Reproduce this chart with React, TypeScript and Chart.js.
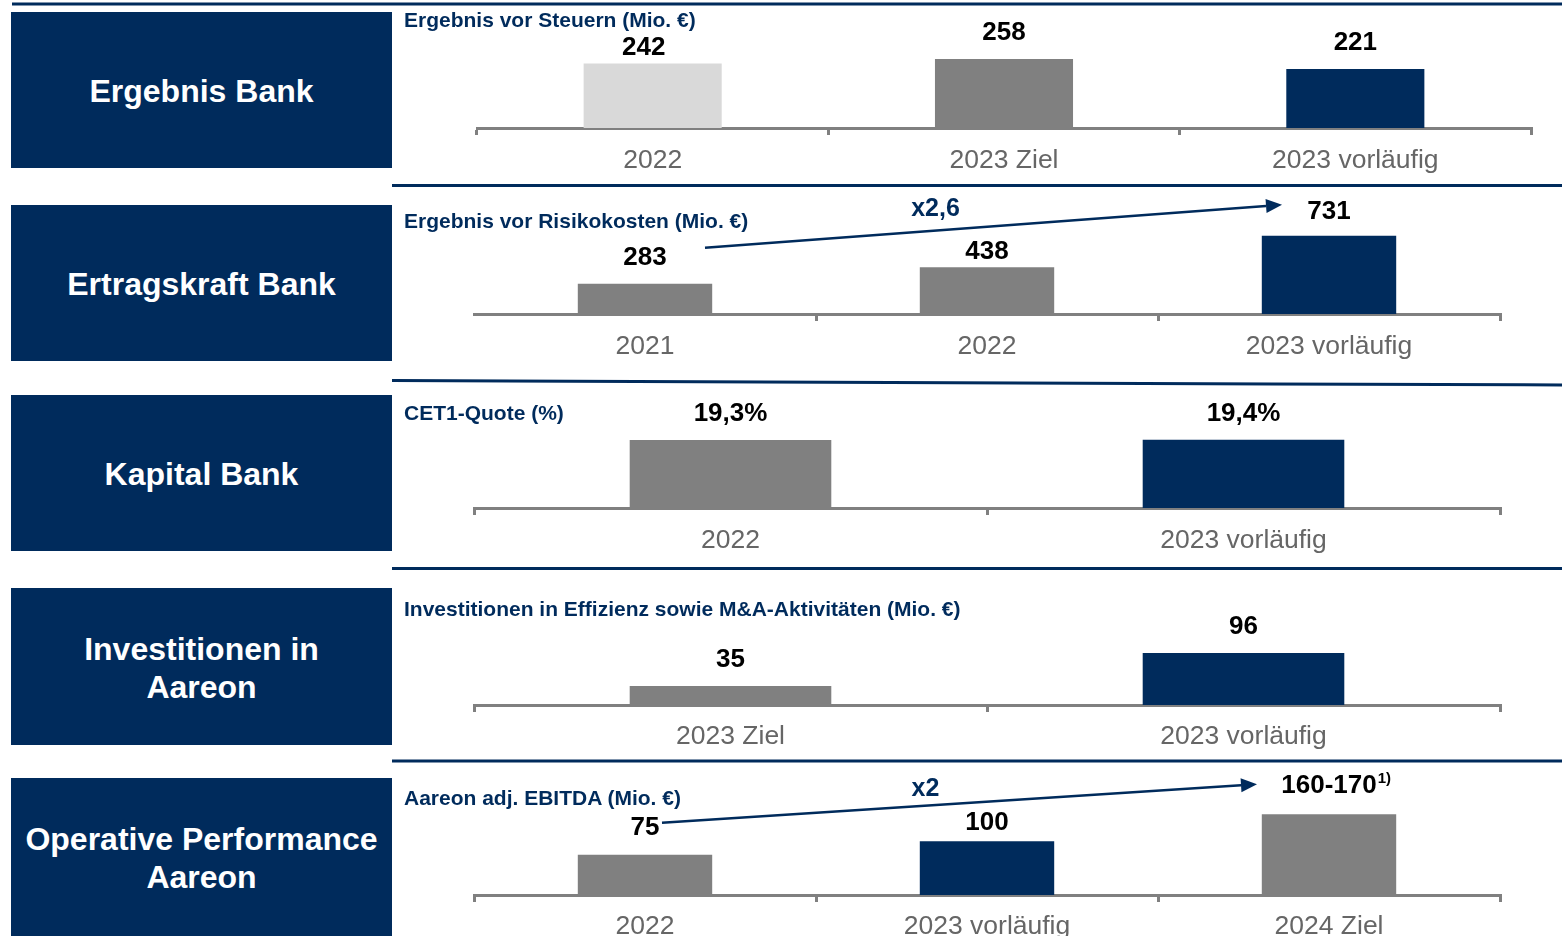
import React, { useEffect, useRef } from 'react';
import { Chart, registerables } from 'chart.js';

Chart.register(...registerables);

// ---------- data ----------
const steuernCategories = ['2022', '2023 Ziel', '2023 vorläufig'];
const steuernValues = [242, 258, 221];
const steuernLabels = ['242', '258', '221'];

const risikoCategories = ['2021', '2022', '2023 vorläufig'];
const risikoValues = [283, 438, 731];
const risikoLabels = ['283', '438', '731'];

const cetCategories = ['2022', '2023 vorläufig'];
const cetValues = [19.3, 19.4];
const cetLabels = ['19,3%', '19,4%'];

const investCategories = ['2023 Ziel', '2023 vorläufig'];
const investValues = [35, 96];
const investLabels = ['35', '96'];

const ebitdaCategories = ['2022', '2023 vorläufig', '2024 Ziel'];
const ebitdaValues = [75, 100, 150];
const ebitdaLabels = ['75', '100', '160-170'];
const ebitdaSuffixes = ['', '', '1)'];

const boxTexts = [
  ['Ergebnis Bank'],
  ['Ertragskraft Bank'],
  ['Kapital Bank'],
  ['Investitionen in', 'Aareon'],
  ['Operative Performance', 'Aareon'],
];
const chartTitles = [
  'Ergebnis vor Steuern (Mio. €)',
  'Ergebnis vor Risikokosten (Mio. €)',
  'CET1-Quote (%)',
  'Investitionen in Effizienz sowie M&A-Aktivitäten (Mio. €)',
  'Aareon adj. EBITDA (Mio. €)',
];
const multiplierTexts = ['x2,6', 'x2'];

// ---------- styles ----------
const NAVY = '#002b5c';
const GRAY = '#808080';
const LIGHT = '#d9d9d9';
const FONT = "'Liberation Sans', Arial, Helvetica, sans-serif";
const CANVAS_LEFT = 392;
const PAGE_W = 1562;

type Arrow = {
  from: number; to: number;
  start: [number, number]; end: [number, number];
  text: string; textOffset: [number, number];
};
type RowSpec = {
  top: number; height: number; axisY: number; left: number; right: number;
  yMax: number; scale: number; tickPad: number; hideFirstTick?: boolean;
  categories: string[]; values: number[]; labels: string[]; colors: string[];
  lifts: number[]; shifts?: number[]; suffixes?: string[]; arrow?: Arrow;
};

const rows: RowSpec[] = [
  {
    top: 6, height: 176, axisY: 128, left: 477, right: 1531, yMax: 350, scale: 0.267, tickPad: 10,
    categories: steuernCategories, values: steuernValues, labels: steuernLabels,
    colors: [LIGHT, GRAY, NAVY], lifts: [16, 26, 26], shifts: [-9, 0, 0],
  },
  {
    top: 190, height: 188, axisY: 314, left: 474, right: 1500, yMax: 800, scale: 0.107, tickPad: 10,
    hideFirstTick: true,
    categories: risikoCategories, values: risikoValues, labels: risikoLabels,
    colors: [GRAY, GRAY, NAVY], lifts: [26, 15, 24],
    arrow: { from: 0, to: 2, start: [60, -36], end: [-47, -31], text: multiplierTexts[0], textOffset: [-58, -17] },
  },
  {
    top: 386, height: 180, axisY: 508, left: 474, right: 1500, yMax: 25, scale: 3.52, tickPad: 10,
    categories: cetCategories, values: cetValues, labels: cetLabels,
    colors: [GRAY, NAVY], lifts: [26, 26],
  },
  {
    top: 572, height: 186, axisY: 705, left: 474, right: 1500, yMax: 150, scale: 0.542, tickPad: 9,
    categories: investCategories, values: investValues, labels: investLabels,
    colors: [GRAY, NAVY], lifts: [26, 26],
  },
  {
    top: 764, height: 172, axisY: 895, left: 474, right: 1500, yMax: 200, scale: 0.538, tickPad: 9,
    categories: ebitdaCategories, values: ebitdaValues, labels: ebitdaLabels, suffixes: ebitdaSuffixes,
    colors: [GRAY, NAVY, GRAY], lifts: [27, 18, 28],
    arrow: { from: 0, to: 2, start: [17, -32], end: [-72, -30], text: multiplierTexts[1], textOffset: [-34, -14] },
  },
];

const boxTops = [12, 205, 395, 588, 778];
const boxBottoms = [168, 361, 551, 745, 936];
const titleCenters = [20, 221, 413, 609, 798];

function BarRow({ spec }: { spec: RowSpec }) {
  const ref = useRef<HTMLCanvasElement>(null);
  useEffect(() => {
    const canvas = ref.current!;
    const padTop = spec.axisY - spec.top - spec.yMax * spec.scale;
    const xAxisH = spec.top + spec.height - spec.axisY;

    const decoPlugin = {
      id: 'rowDeco',
      afterDatasetsDraw(chart: any) {
        const ctx = chart.ctx as CanvasRenderingContext2D;
        const meta = chart.getDatasetMeta(0);
        ctx.save();
        meta.data.forEach((bar: any, i: number) => {
          const cy = bar.y - spec.lifts[i];
          const cx = bar.x + (spec.shifts ? spec.shifts[i] : 0);
          ctx.font = `bold 26px ${FONT}`;
          ctx.fillStyle = '#000';
          ctx.textAlign = 'center';
          ctx.textBaseline = 'middle';
          ctx.fillText(spec.labels[i], cx, cy);
          const suf = spec.suffixes ? spec.suffixes[i] : '';
          if (suf) {
            const w = ctx.measureText(spec.labels[i]).width;
            ctx.font = `bold 15px ${FONT}`;
            ctx.textAlign = 'left';
            ctx.fillText(suf, cx + w / 2 + 1, cy - 7);
          }
        });
        const a = spec.arrow;
        if (a) {
          const b0 = meta.data[a.from];
          const b1 = meta.data[a.to];
          const x0 = b0.x + a.start[0];
          const y0 = b0.y + a.start[1];
          const x1 = b1.x + a.end[0];
          const y1 = b1.y + a.end[1];
          const ang = Math.atan2(y1 - y0, x1 - x0);
          const headLen = 16;
          const headHalf = 7;
          const bx = x1 - headLen * Math.cos(ang);
          const by = y1 - headLen * Math.sin(ang);
          ctx.strokeStyle = NAVY;
          ctx.lineWidth = 2.5;
          ctx.beginPath();
          ctx.moveTo(x0, y0);
          ctx.lineTo(bx, by);
          ctx.stroke();
          ctx.fillStyle = NAVY;
          ctx.beginPath();
          ctx.moveTo(x1, y1);
          ctx.lineTo(bx + headHalf * Math.sin(ang), by - headHalf * Math.cos(ang));
          ctx.lineTo(bx - headHalf * Math.sin(ang), by + headHalf * Math.cos(ang));
          ctx.closePath();
          ctx.fill();
          const mx = (x0 + x1) / 2 + a.textOffset[0];
          const my = (y0 + y1) / 2 + a.textOffset[1];
          ctx.font = `bold 25px ${FONT}`;
          ctx.textAlign = 'center';
          ctx.textBaseline = 'middle';
          ctx.fillText(a.text, mx, my);
        }
        ctx.restore();
      },
    };

    const chart = new Chart(canvas, {
      type: 'bar',
      data: {
        labels: spec.categories,
        datasets: [{
          data: spec.values,
          backgroundColor: spec.colors,
          borderWidth: 0,
          barPercentage: 0.393,
          categoryPercentage: 1,
        }],
      },
      options: {
        animation: false,
        responsive: false,
        maintainAspectRatio: false,
        devicePixelRatio: 1,
        events: [],
        layout: {
          padding: { top: padTop, left: spec.left - CANVAS_LEFT, right: PAGE_W - spec.right, bottom: 0 },
        },
        plugins: {
          legend: { display: false },
          tooltip: { enabled: false },
          title: { display: false },
        },
        scales: {
          x: {
            position: 'bottom',
            z: 1,
            offset: true,
            afterFit: (s: any) => { s.height = xAxisH; },
            border: { display: true, color: GRAY, width: 3 },
            grid: {
              display: true, drawOnChartArea: false, drawTicks: true, tickLength: 7,
              tickWidth: 3,
              tickColor: (c: any) => (spec.hideFirstTick && c.index === 0 ? 'rgba(0,0,0,0)' : GRAY),
              color: GRAY, lineWidth: 3, offset: true,
            },
            ticks: {
              color: '#666666', font: { family: FONT, size: 26.5 }, padding: spec.tickPad,
              maxRotation: 0, minRotation: 0, autoSkip: false,
            },
          },
          y: { display: false, min: 0, max: spec.yMax },
        },
      } as any,
      plugins: [decoPlugin],
    });
    return () => chart.destroy();
  }, [spec]);
  return (
    <canvas
      ref={ref}
      width={PAGE_W - CANVAS_LEFT}
      height={spec.height}
      style={{ position: 'absolute', left: CANVAS_LEFT, top: spec.top, width: PAGE_W - CANVAS_LEFT, height: spec.height }}
    />
  );
}

export default function App() {
  return (
    <div style={{ position: 'absolute', left: 0, top: 0, width: PAGE_W, height: 936, overflow: 'hidden', background: '#fff', fontFamily: FONT }}>
      {boxTexts.map((lines, i) => (
        <div key={'b' + i} style={{
          position: 'absolute', left: 11, top: boxTops[i], width: 381, height: boxBottoms[i] - boxTops[i],
          background: NAVY, color: '#fff', fontWeight: 'bold', fontSize: 32, lineHeight: '38px',
          display: 'flex', flexDirection: 'column', alignItems: 'center', justifyContent: 'center', textAlign: 'center',
          paddingTop: 2, boxSizing: 'border-box',
        }}>
          {lines.map((l, j) => <div key={j} style={{ whiteSpace: 'nowrap' }}>{l}</div>)}
        </div>
      ))}
      {rows.map((r, i) => <BarRow key={'r' + i} spec={r} />)}
      {chartTitles.map((t, i) => (
        <div key={'t' + i} style={{
          position: 'absolute', left: 404, top: titleCenters[i] - 12, height: 24, lineHeight: '24px',
          fontSize: 21, fontWeight: 'bold', color: NAVY, whiteSpace: 'nowrap',
        }}>{t}</div>
      ))}
      <svg width={PAGE_W} height={936} style={{ position: 'absolute', left: 0, top: 0, pointerEvents: 'none' }}>
        <line x1={12} y1={4} x2={PAGE_W} y2={4} stroke={NAVY} strokeWidth={3} />
        <line x1={392} y1={185.5} x2={PAGE_W} y2={185.5} stroke={NAVY} strokeWidth={3} />
        <line x1={392} y1={380.5} x2={PAGE_W} y2={385} stroke={NAVY} strokeWidth={3} />
        <line x1={392} y1={568.5} x2={PAGE_W} y2={568.5} stroke={NAVY} strokeWidth={3} />
        <line x1={392} y1={761} x2={PAGE_W} y2={761} stroke={NAVY} strokeWidth={3} />
      </svg>
    </div>
  );
}
